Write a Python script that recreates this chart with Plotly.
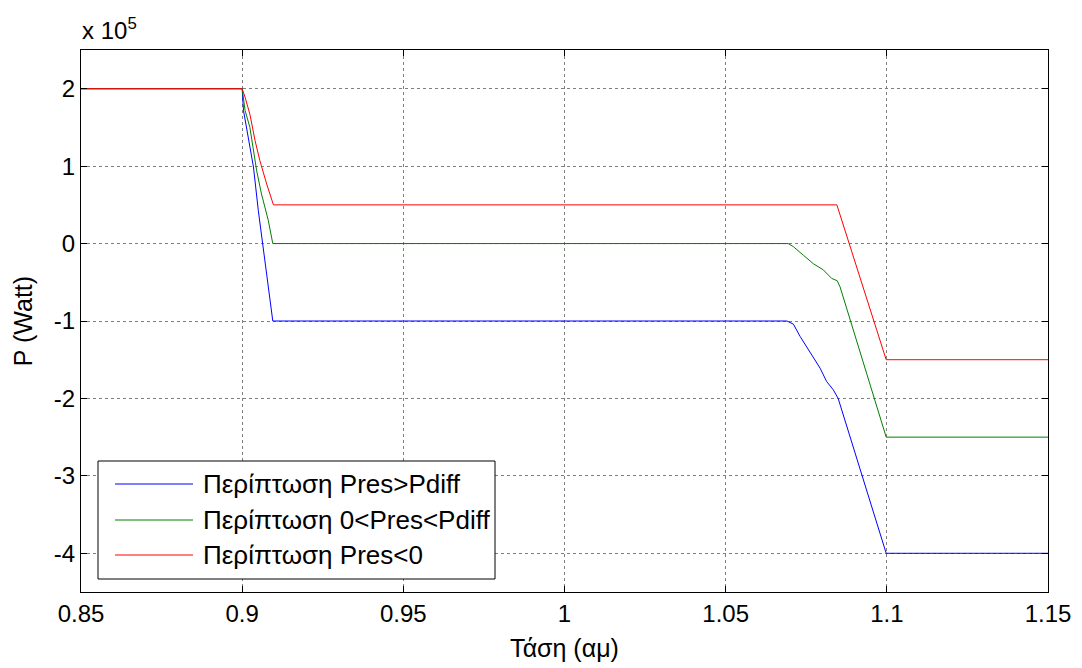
import plotly.graph_objects as go

# ---- data (P in Watt, voltage in p.u.) ----
volt_blue = [0.85, 0.90, 0.9004, 0.9019, 0.9035, 0.9050, 0.9066, 0.9081, 0.9095,
             1.0690, 1.0710, 1.0731, 1.0762, 1.0793, 1.0813, 1.0834, 1.0849, 1.0998, 1.15]
p_blue = [2e5, 2e5, 1.72e5, 1.37e5, 0.99e5, 0.43e5, -0.08e5, -0.51e5, -1e5,
          -1e5, -1.04e5, -1.20e5, -1.41e5, -1.61e5, -1.78e5, -1.89e5, -2.0e5, -4e5, -4e5]

volt_green = [0.85, 0.90, 0.9009, 0.9024, 0.9045, 0.9060, 0.9081, 0.9095,
              1.0694, 1.0710, 1.0741, 1.0772, 1.0803, 1.0829, 1.0846, 1.0855, 1.0998, 1.15]
p_green = [2e5, 2e5, 1.72e5, 1.50e5, 0.94e5, 0.64e5, 0.30e5, 0,
           0, -0.04e5, -0.15e5, -0.26e5, -0.34e5, -0.45e5, -0.48e5, -0.56e5, -2.5e5, -2.5e5]

volt_red = [0.85, 0.90, 0.9009, 0.9024, 0.9040, 0.9055, 0.9076, 0.9097, 1.0845, 1.0998, 1.15]
p_red = [2e5, 2e5, 1.89e5, 1.67e5, 1.33e5, 1.07e5, 0.77e5, 0.5e5, 0.5e5, -1.5e5, -1.5e5]

series_names = ["Περίπτωση Pres>Pdiff", "Περίπτωση 0<Pres<Pdiff", "Περίπτωση Pres<0"]
series_colors = ["#0000FF", "#008000", "#FF0000"]

x_ticks = [0.85, 0.9, 0.95, 1.0, 1.05, 1.1, 1.15]
x_ticktext = ["0.85", "0.9", "0.95", "1", "1.05", "1.1", "1.15"]
y_ticks = [-4e5, -3e5, -2e5, -1e5, 0, 1e5, 2e5]
y_ticktext = ["-4", "-3", "-2", "-1", "0", "1", "2"]

x_title = "Τάση (αμ)"
y_title = "P (Watt)"
exp_label = "x 10<sup>5</sup>"

FONT = "Liberation Sans, Arial, sans-serif"

# The page body adds an 8px offset; work in screen pixels and subtract it.
OFF = 8
W, H = 1082 - OFF, 668 - OFF
PL, PR, PT, PB = 81, 1048, 50, 592          # plot box in screen pixels
L, T = PL - OFF, PT - OFF
R, B = W - (PR - OFF), H - (PB - OFF)
PW, PH = PR - PL, PB - PT

fig = go.Figure()
for xs, ys, nm, col in zip([volt_blue, volt_green, volt_red],
                           [p_blue, p_green, p_red], series_names, series_colors):
    fig.add_trace(go.Scatter(x=xs, y=ys, mode="lines", name=nm,
                             line=dict(color=col, width=1), showlegend=False))

axis_common = dict(showline=True, linecolor="black", linewidth=1, mirror="ticks",
                   ticks="inside", ticklen=6, tickcolor="black",
                   showgrid=True, gridcolor="#7f7f7f", griddash="dot", gridwidth=1,
                   zeroline=False, tickfont=dict(size=24, color="black", family=FONT))

fig.update_xaxes(range=[0.85, 1.15], tickvals=x_ticks, ticktext=x_ticktext,
                 title=dict(text=x_title, font=dict(size=25, family=FONT, color="black"), standoff=13),
                 **axis_common)
fig.update_yaxes(range=[-4.5e5, 2.5e5], tickvals=y_ticks, ticktext=y_ticktext,
                 title=dict(text=y_title, font=dict(size=25, family=FONT, color="black"), standoff=14),
                 **axis_common)

def px(xp):
    return (xp - PL) / PW

def py(yp):
    return (PB - yp) / PH

shapes = []
annotations = []
# legend box
shapes.append(dict(type="rect", xref="paper", yref="paper",
                   x0=px(98), x1=px(495), y0=py(579), y1=py(461),
                   line=dict(color="black", width=1), fillcolor="white", layer="above"))
legend_y = [484, 520, 555]
for nm, col, ly in zip(series_names, series_colors, legend_y):
    shapes.append(dict(type="line", xref="paper", yref="paper",
                       x0=px(115), x1=px(193), y0=py(ly), y1=py(ly),
                       line=dict(color=col, width=1), layer="above"))
    annotations.append(dict(xref="paper", yref="paper", x=px(201), y=py(ly),
                            xanchor="left", yanchor="middle", text=nm, showarrow=False,
                            font=dict(size=26, family=FONT, color="black")))

annotations.append(dict(xref="paper", yref="paper", x=px(80), y=1.0, yshift=4,
                        xanchor="left", yanchor="bottom", text=exp_label, showarrow=False,
                        font=dict(size=24, family=FONT, color="black")))

fig.update_layout(width=W, height=H, margin=dict(l=L, r=R, t=T, b=B),
                  paper_bgcolor="white", plot_bgcolor="white",
                  shapes=shapes, annotations=annotations,
                  font=dict(family=FONT, color="black"))

fig.write_html("out.html")
